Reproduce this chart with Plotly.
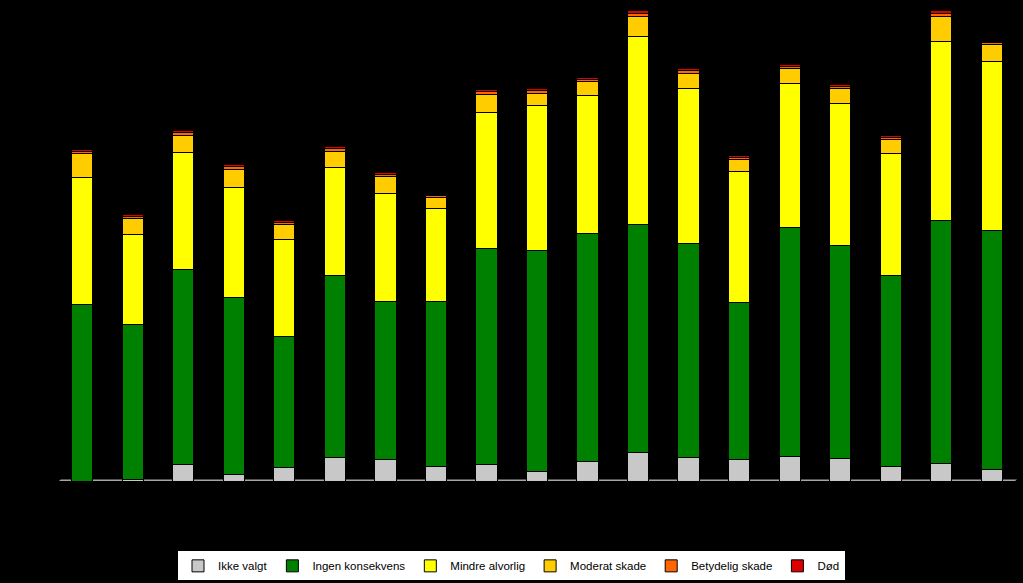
import plotly.graph_objects as go

categories = ["1990", "1991", "1992", "1993", "1994", "1995", "1996", "1997", "1998", "1999",
              "2000", "2001", "2002", "2003", "2004", "2005", "2006", "2007", "2008"]

ikke_valgt = [0, 2, 17, 7, 14, 24, 22, 15, 17, 10, 20, 29, 24, 22, 25, 23, 15, 18, 12]
ingen_konsekvens = [177, 155, 195, 177, 131, 182, 158, 165, 216, 221, 228, 228, 214, 157, 229, 213, 191, 243, 239]
mindre_alvorlig = [127, 90, 117, 110, 97, 108, 108, 93, 136, 145, 138, 188, 155, 131, 144, 142, 122, 179, 169]
moderat_skade = [24, 16, 17, 18, 15, 16, 17, 11, 18, 12, 14, 20, 15, 12, 15, 15, 14, 25, 17]
betydelig_skade = [2, 2, 3, 3, 2, 3, 2, 2, 3, 3, 2, 3, 3, 2, 2, 2, 2, 3, 2]
dod = [2, 2, 2, 2, 2, 2, 2, 1, 2, 2, 2, 3, 2, 2, 2, 2, 2, 3, 1]

series = [
    ("Ikke valgt", ikke_valgt, "#c8c8c8"),
    ("Ingen konsekvens", ingen_konsekvens, "#008000"),
    ("Mindre alvorlig", mindre_alvorlig, "#ffff00"),
    ("Moderat skade", moderat_skade, "#ffcc00"),
    ("Betydelig skade", betydelig_skade, "#ff6600"),
    ("Død", dod, "#dd0000"),
]

fig = go.Figure()
for name, vals, color in series:
    fig.add_trace(go.Bar(
        x=categories, y=vals, name=name,
        marker=dict(color=color, line=dict(color="#000000", width=1)),
    ))

# floor strip
fig.add_shape(type="path", xref="paper", yref="y",
              path="M 0,-1.5 L 0.004,1.5 L 1,1.5 L 0.996,-1.5 Z",
              fillcolor="#a6a6a6", line=dict(width=0), layer="below")

fig.update_layout(
    width=1023, height=583,
    barmode="stack", bargap=0.58,
    paper_bgcolor="#000000", plot_bgcolor="#000000",
    margin=dict(l=57, r=6, t=5, b=102),
    xaxis=dict(showticklabels=False, showgrid=False, zeroline=False, showline=False, ticks=""),
    yaxis=dict(range=[0, 476], showticklabels=False, showgrid=False, zeroline=False, showline=False, ticks=""),
    showlegend=True,
    legend=dict(
        orientation="h", xref="container", yref="container",
        x=0.5, xanchor="center", y=0.056, yanchor="top",
        bgcolor="#ffffff", bordercolor="#000000", borderwidth=1,
        font=dict(family="Liberation Sans, Arial", size=11.5, color="#000000"),
        traceorder="normal", itemwidth=30,
    ),
    font=dict(family="Liberation Sans, Arial"),
)

fig.write_html(
    "out.html",
    config={"displayModeBar": False},
    post_script="document.body.style.margin='0';document.body.style.background='#000000';",
)
